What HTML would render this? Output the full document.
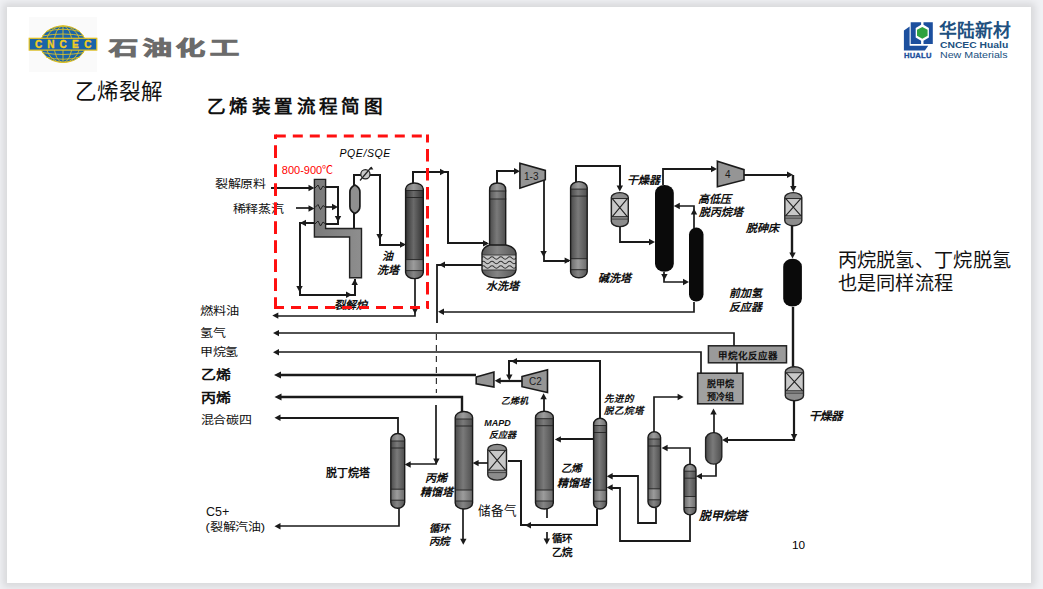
<!DOCTYPE html>
<html lang="zh-CN"><head><meta charset="utf-8"><title>乙烯裂解</title>
<style>
*{margin:0;padding:0;box-sizing:border-box}
html,body{width:1043px;height:589px;overflow:hidden;background:#f0f1f4;font-family:"Liberation Sans",sans-serif}
.slide{position:absolute;left:7px;top:7px;width:1024px;height:576px;background:#fff;box-shadow:0 0 7px 4px rgba(0,0,0,0.1)}
.abs{position:absolute;white-space:nowrap}
svg.d{position:absolute;left:0;top:0}
</style></head>
<body>
<div class="slide"></div>
<svg class="d" width="1043" height="589" viewBox="0 0 1043 589">
<defs>
<linearGradient id="gcol" x1="0" x2="1" y1="0" y2="0">
<stop offset="0" stop-color="#4a4a4a"/><stop offset="0.45" stop-color="#7a7a7a"/><stop offset="1" stop-color="#4e4e4e"/>
</linearGradient>
<linearGradient id="glight" x1="0" x2="1" y1="0" y2="0">
<stop offset="0" stop-color="#6a6a6a"/><stop offset="0.45" stop-color="#9c9c9c"/><stop offset="1" stop-color="#6a6a6a"/>
</linearGradient>
<linearGradient id="gmid" x1="0" x2="1" y1="0" y2="0">
<stop offset="0" stop-color="#555"/><stop offset="0.45" stop-color="#858585"/><stop offset="1" stop-color="#555"/>
</linearGradient>
<linearGradient id="gdark" x1="0" x2="1" y1="0" y2="0">
<stop offset="0" stop-color="#333"/><stop offset="0.45" stop-color="#6a6a6a"/><stop offset="1" stop-color="#333"/>
</linearGradient>
<linearGradient id="gfur" x1="0" x2="1" y1="0" y2="0">
<stop offset="0" stop-color="#7a7a7a"/><stop offset="1" stop-color="#8e8e8e"/>
</linearGradient>
</defs>
<!-- CNCEC logo -->
<rect x="29" y="17" width="68" height="55" fill="#fafafa"/>
<ellipse cx="63" cy="44.2" rx="22.7" ry="18.3" fill="#1a64a8" stroke="#e5c21f" stroke-width="1"/>
<g stroke="#d8bf2a" stroke-width="0.9" fill="none">
<ellipse cx="63" cy="44.2" rx="9" ry="18.3"/>
<ellipse cx="63" cy="44.2" rx="17" ry="18.3"/>
<line x1="63" y1="26" x2="63" y2="62.5"/>
<path d="M46,31.5 Q63,27 80,31.5 M42,36 Q63,32 84,36 M42,52.5 Q63,56.5 84,52.5 M46,57 Q63,61.5 80,57"/>
</g>
<rect x="29.2" y="38.3" width="67.6" height="11.8" fill="#1a64a8" stroke="#e5c21f" stroke-width="1.2"/>
<text x="35 47.3 59.6 72.1 84.2" y="48" font-size="10" font-weight="bold" fill="#f2cc22" stroke="#f2cc22" stroke-width="0.35" font-family="Liberation Sans, sans-serif">CNCEC</text>
<!-- Hualu logo icon -->
<g fill="#1c4f9e">
<path d="M903.9,30.5 L909.6,26.6 L909.6,45.8 L928.2,45.8 L924.9,50.4 L903.9,50.4 Z"/>
<path d="M910.7,22.3 L921.1,22.3 L921.1,24.8 L915.7,28 L915.7,37.5 L921.1,40.7 L921.1,44 L910.7,44 Z"/>
<path d="M923.5,22.3 L932.8,22.3 L932.8,44 L923.5,44 L923.5,40.7 L928.9,37.5 L928.9,28 L923.5,24.8 Z"/>
</g>
<polygon points="922.3,26.9 927.6,29.8 927.6,35.7 922.3,38.7 917,35.7 917,29.8" fill="#2ea23f"/>
<path d="M271,188 L312,188" fill="none" stroke="#1a1a1a" stroke-width="2.0" stroke-linejoin="miter"/>
<path d="M314.5,188.0 L308.5,184.8 L308.5,191.2 Z" fill="#1a1a1a"/>
<path d="M296,208 L312,208" fill="none" stroke="#1a1a1a" stroke-width="1.7" stroke-linejoin="miter"/>
<path d="M314.5,208.5 L308.5,205.3 L308.5,211.7 Z" fill="#1a1a1a"/>
<path d="M314.4,179.4 L325.6,179.4 L325.6,228.5 L361.5,228.5 L361.5,277.7 L349.6,277.7 L349.6,237 L314.4,237 Z" fill="url(#gfur)" stroke="#222" stroke-width="1.4"/>
<path d="M315,188 L318,185 L320.5,190 L323,186 L325.6,188" fill="none" stroke="#222" stroke-width="1"/>
<path d="M315,207.5 L318,204.5 L320.5,209.5 L323,205.5 L325.6,207.5" fill="none" stroke="#222" stroke-width="1"/>
<path d="M315,224 L318,221 L320.5,226 L323,222 L325.6,224" fill="none" stroke="#222" stroke-width="1"/>
<path d="M326,187 L338,187 L338,224 L326,224" fill="none" stroke="#1a1a1a" stroke-width="2.0" stroke-linejoin="miter"/>
<path d="M338.0,222.0 L334.8,216.0 L341.2,216.0 Z" fill="#1a1a1a"/>
<path d="M326,207 L335,207" fill="none" stroke="#1a1a1a" stroke-width="1.7" stroke-linejoin="miter"/>
<path d="M338.0,207.0 L332.0,203.8 L332.0,210.2 Z" fill="#1a1a1a"/>
<path d="M314,223 L300,223 L300,295 L355,295 L355,279" fill="none" stroke="#1a1a1a" stroke-width="2.0" stroke-linejoin="miter"/>
<path d="M300.0,223.0 L306.0,219.8 L306.0,226.2 Z" fill="#1a1a1a"/>
<path d="M299.5,292.0 L296.3,286.0 L302.7,286.0 Z" fill="#1a1a1a"/>
<path d="M352.0,294.7 L346.0,291.5 L346.0,297.9 Z" fill="#1a1a1a"/>
<path d="M354.7,279.0 L351.5,285.0 L357.9,285.0 Z" fill="#1a1a1a"/>
<path d="M354,212 L354,228" fill="none" stroke="#1a1a1a" stroke-width="2.0" stroke-linejoin="miter"/>
<path d="M354.9,185 Q359.9,187.5 359.9,192 L359.9,206.5 Q359.9,211 354.9,213.5 Q349.9,211 349.9,206.5 L349.9,192 Q349.9,187.5 354.9,185 Z" fill="#8f8f8f" stroke="#1a1a1a" stroke-width="1.7"/>
<path d="M354,186 L354,175 L380,175 L380,245 L404,245" fill="none" stroke="#1a1a1a" stroke-width="2.0" stroke-linejoin="miter"/>
<path d="M379.6,240.0 L376.4,234.0 L382.8,234.0 Z" fill="#1a1a1a"/>
<path d="M406.0,244.6 L400.0,241.4 L400.0,247.8 Z" fill="#1a1a1a"/>
<circle cx="365.4" cy="174.3" r="4.6" fill="#c9c9c9" stroke="#222" stroke-width="1.2"/>
<line x1="360" y1="180.5" x2="371" y2="167.5" stroke="#222" stroke-width="1.2"/>
<path d="M371.5,166.5 L369.7,169.5 L373.3,169.5 Z" fill="#1a1a1a"/>
<clipPath id="cc1"><rect x="405.6" y="183.0" width="17.7" height="95.6" rx="8.8" ry="6.0"/></clipPath>
<rect x="405.6" y="183.0" width="17.7" height="95.6" rx="8.8" ry="6.0" fill="url(#gdark)"/>
<g clip-path="url(#cc1)"><rect x="405.6" y="183" width="17.69999999999999" height="7.5" fill="url(#glight)"/><rect x="405.6" y="259.6" width="17.69999999999999" height="11" fill="url(#glight)"/><rect x="405.6" y="270.6" width="17.69999999999999" height="8" fill="url(#gmid)"/><line x1="405.6" y1="190.5" x2="423.3" y2="190.5" stroke="#222" stroke-width="0.9"/><line x1="405.6" y1="197.5" x2="423.3" y2="197.5" stroke="#222" stroke-width="0.9"/><line x1="405.6" y1="259.6" x2="423.3" y2="259.6" stroke="#222" stroke-width="0.9"/><line x1="405.6" y1="270.6" x2="423.3" y2="270.6" stroke="#222" stroke-width="0.9"/></g>
<rect x="405.6" y="183.0" width="17.7" height="95.6" rx="8.8" ry="6.0" fill="none" stroke="#1a1a1a" stroke-width="1.4"/>
<path d="M413,183 L413,172 L448,172 L448,243 L487,243" fill="none" stroke="#1a1a1a" stroke-width="2.0" stroke-linejoin="miter"/>
<path d="M446.0,172.0 L440.0,168.8 L440.0,175.2 Z" fill="#1a1a1a"/>
<path d="M489.0,243.4 L483.0,240.2 L483.0,246.6 Z" fill="#1a1a1a"/>
<path d="M415,279 L415,316 L276,316" fill="none" stroke="#1a1a1a" stroke-width="1.7" stroke-linejoin="miter"/>
<path d="M415.0,314.0 L411.8,308.0 L418.2,308.0 Z" fill="#1a1a1a"/>
<path d="M272.3,315.6 L278.3,312.4 L278.3,318.8 Z" fill="#1a1a1a"/>
<path d="M489.6,250 L489.6,190 Q489.6,183 497.6,183 Q505.7,183 505.7,190 L505.7,250 Z" fill="url(#gcol)"/>
<path d="M489.6,191 L489.6,190 Q489.6,183 497.6,183 Q505.7,183 505.7,190 L505.7,191 Z" fill="url(#glight)"/>
<rect x="489.6" y="191" width="16.1" height="8" fill="url(#gmid)"/>
<line x1="489" y1="191" x2="506.3" y2="191" stroke="#222" stroke-width="0.9"/>
<line x1="489" y1="199" x2="506.3" y2="199" stroke="#222" stroke-width="0.9"/>
<path d="M489.6,250 L489.6,190 Q489.6,183 497.6,183 Q505.7,183 505.7,190 L505.7,250" fill="none" stroke="#1a1a1a" stroke-width="1.4"/>
<clipPath id="bowl"><path d="M489.6,245 Q483,247 482,253 L482,270 Q483,278 499,278 Q515,278 516,270 L516,253 Q515,247 505.7,245 Z"/></clipPath>
<g clip-path="url(#bowl)"><rect x="481" y="244" width="36" height="35" fill="url(#gmid)"/><rect x="481" y="255" width="36" height="15" fill="#c4c4c4"/>
<path d="M481,258 q2.2,-2.4 4.4,0 t4.4,0 t4.4,0 t4.4,0 t4.4,0 t4.4,0 t4.4,0 t4.4,0" fill="none" stroke="#333" stroke-width="1.1"/>
<path d="M481,262.5 q2.2,-2.4 4.4,0 t4.4,0 t4.4,0 t4.4,0 t4.4,0 t4.4,0 t4.4,0 t4.4,0" fill="none" stroke="#333" stroke-width="1.1"/>
<path d="M481,267 q2.2,-2.4 4.4,0 t4.4,0 t4.4,0 t4.4,0 t4.4,0 t4.4,0 t4.4,0 t4.4,0" fill="none" stroke="#333" stroke-width="1.1"/>
<line x1="481" y1="255" x2="517" y2="255" stroke="#333" stroke-width="0.9"/><line x1="481" y1="270" x2="517" y2="270" stroke="#333" stroke-width="0.9"/></g>
<path d="M489.6,245 Q483,247 482,253 L482,270 Q483,278 499,278 Q515,278 516,270 L516,253 Q515,247 505.7,245 Z" fill="none" stroke="#1a1a1a" stroke-width="1.4"/>
<path d="M497,183 L497,171 L518,171" fill="none" stroke="#1a1a1a" stroke-width="2.0" stroke-linejoin="miter"/>
<path d="M520.0,171.2 L514.0,168.0 L514.0,174.4 Z" fill="#1a1a1a"/>
<path d="M482,265 L437,265 L437,323" fill="none" stroke="#1a1a1a" stroke-width="1.8" stroke-linejoin="miter"/>
<path d="M439.0,264.8 L445.0,261.6 L445.0,268.0 Z" fill="#1a1a1a"/>
<path d="M519.9,163.2 L545.3,170.4 L545.3,179.7 L519.9,188.2 Z" fill="#959595" stroke="#1a1a1a" stroke-width="1.6"/>
<text x="524" y="179.5" font-size="10" fill="#1a1a1a" font-family="Liberation Sans, sans-serif">1-3</text>
<path d="M544,180 L544,261 L569,261" fill="none" stroke="#1a1a1a" stroke-width="1.8" stroke-linejoin="miter"/>
<path d="M543.6,257.0 L540.4,251.0 L546.8,251.0 Z" fill="#1a1a1a"/>
<path d="M570.6,260.6 L564.6,257.4 L564.6,263.8 Z" fill="#1a1a1a"/>
<clipPath id="cc2"><rect x="570.6" y="181.6" width="16.6" height="96.1" rx="8.3" ry="6.0"/></clipPath>
<rect x="570.6" y="181.6" width="16.6" height="96.1" rx="8.3" ry="6.0" fill="url(#gcol)"/>
<g clip-path="url(#cc2)"><rect x="570.6" y="181.6" width="16.600000000000023" height="7.5" fill="url(#glight)"/><rect x="570.6" y="258.7" width="16.600000000000023" height="11" fill="url(#glight)"/><rect x="570.6" y="269.7" width="16.600000000000023" height="8" fill="url(#gmid)"/><line x1="570.6" y1="189.1" x2="587.2" y2="189.1" stroke="#222" stroke-width="0.9"/><line x1="570.6" y1="196.1" x2="587.2" y2="196.1" stroke="#222" stroke-width="0.9"/><line x1="570.6" y1="258.7" x2="587.2" y2="258.7" stroke="#222" stroke-width="0.9"/><line x1="570.6" y1="269.7" x2="587.2" y2="269.7" stroke="#222" stroke-width="0.9"/></g>
<rect x="570.6" y="181.6" width="16.6" height="96.1" rx="8.3" ry="6.0" fill="none" stroke="#1a1a1a" stroke-width="1.4"/>
<path d="M576,182 L576,166 L620,166 L620,188" fill="none" stroke="#1a1a1a" stroke-width="2.0" stroke-linejoin="miter"/>
<path d="M619.8,191.5 L616.6,185.5 L623.0,185.5 Z" fill="#1a1a1a"/>
<rect x="611.3" y="192.6" width="17.0" height="34.0" rx="8.5" ry="5" fill="#8c8c8c" stroke="#222" stroke-width="1.4"/>
<line x1="611.3" y1="198.6" x2="628.3" y2="198.6" stroke="#222" stroke-width="1"/>
<line x1="611.3" y1="216.6" x2="628.3" y2="216.6" stroke="#222" stroke-width="1"/>
<rect x="612.3" y="199.1" width="15.0" height="17.0" fill="#c8c8c8"/>
<path d="M612.3,198.6 L627.3,216.6 M627.3,198.6 L612.3,216.6" stroke="#222" stroke-width="1.1"/>
<line x1="611.3" y1="219.1" x2="628.3" y2="219.1" stroke="#333" stroke-width="0.8"/>
<path d="M620,227 L620,242 L652,242" fill="none" stroke="#1a1a1a" stroke-width="1.8" stroke-linejoin="miter"/>
<path d="M655.0,242.0 L649.0,238.8 L649.0,245.2 Z" fill="#1a1a1a"/>
<rect x="655" y="185" width="18.8" height="86.8" rx="9.4" ry="8" fill="#0a0a0a"/>
<path d="M663,185 L663,169 L714,169" fill="none" stroke="#1a1a1a" stroke-width="1.8" stroke-linejoin="miter"/>
<path d="M717.0,169.0 L711.0,165.8 L711.0,172.2 Z" fill="#1a1a1a"/>
<path d="M664,272 L664,282 L686,282" fill="none" stroke="#1a1a1a" stroke-width="1.7" stroke-linejoin="miter"/>
<path d="M664.4,280.0 L661.2,274.0 L667.6,274.0 Z" fill="#1a1a1a"/>
<path d="M689.0,282.0 L683.0,278.8 L683.0,285.2 Z" fill="#1a1a1a"/>
<rect x="689" y="227.6" width="14.5" height="73.9" rx="7.2" ry="7" fill="#0a0a0a"/>
<path d="M694,228 L694,206 L676,206" fill="none" stroke="#1a1a1a" stroke-width="1.7" stroke-linejoin="miter"/>
<path d="M694.0,208.5 L690.8,214.5 L697.2,214.5 Z" fill="#1a1a1a"/>
<path d="M673.8,206.0 L679.8,202.8 L679.8,209.2 Z" fill="#1a1a1a"/>
<path d="M694,302 L694,312 L440,312" fill="none" stroke="#1a1a1a" stroke-width="1.7" stroke-linejoin="miter"/>
<path d="M438.0,311.7 L444.0,308.5 L444.0,314.9 Z" fill="#1a1a1a"/>
<path d="M717.4,161.2 L744.0,169.7 L744.0,180.0 L717.4,186.7 Z" fill="#959595" stroke="#1a1a1a" stroke-width="1.6"/>
<text x="725" y="178" font-size="10" fill="#1a1a1a" font-family="Liberation Sans, sans-serif">4</text>
<path d="M744,175 L790,175" fill="none" stroke="#1a1a1a" stroke-width="2.0" stroke-linejoin="miter"/>
<path d="M793.0,174.8 L787.0,171.6 L787.0,178.0 Z" fill="#1a1a1a"/>
<path d="M793,175 L793,189" fill="none" stroke="#1a1a1a" stroke-width="2.4000000000000004" stroke-linejoin="miter"/>
<path d="M793.3,192.0 L790.1,186.0 L796.5,186.0 Z" fill="#1a1a1a"/>
<rect x="784.8" y="192.6" width="17.0" height="33.1" rx="8.5" ry="5" fill="#8c8c8c" stroke="#222" stroke-width="1.4"/>
<line x1="784.8" y1="198.6" x2="801.8" y2="198.6" stroke="#222" stroke-width="1"/>
<line x1="784.8" y1="215.7" x2="801.8" y2="215.7" stroke="#222" stroke-width="1"/>
<rect x="785.8" y="199.1" width="15.0" height="16.099999999999994" fill="#c8c8c8"/>
<path d="M785.8,198.6 L800.8,215.7 M800.8,198.6 L785.8,215.7" stroke="#222" stroke-width="1.1"/>
<line x1="784.8" y1="218.2" x2="801.8" y2="218.2" stroke="#333" stroke-width="0.8"/>
<path d="M792,226 L792,255" fill="none" stroke="#1a1a1a" stroke-width="2.4000000000000004" stroke-linejoin="miter"/>
<path d="M792.5,258.5 L789.3,252.5 L795.7,252.5 Z" fill="#1a1a1a"/>
<rect x="783.2" y="258.7" width="18.7" height="47.9" rx="9.3" ry="8" fill="#0a0a0a"/>
<path d="M793,307 L793,367" fill="none" stroke="#1a1a1a" stroke-width="2.4000000000000004" stroke-linejoin="miter"/>
<rect x="785.3" y="366.8" width="18.2" height="33.9" rx="9.1" ry="5" fill="#8c8c8c" stroke="#222" stroke-width="1.4"/>
<line x1="785.3" y1="372.8" x2="803.5" y2="372.8" stroke="#222" stroke-width="1"/>
<line x1="785.3" y1="390.7" x2="803.5" y2="390.7" stroke="#222" stroke-width="1"/>
<rect x="786.3" y="373.3" width="16.200000000000045" height="16.899999999999977" fill="#c8c8c8"/>
<path d="M786.3,372.8 L802.5,390.7 M802.5,372.8 L786.3,390.7" stroke="#222" stroke-width="1.1"/>
<line x1="785.3" y1="393.2" x2="803.5" y2="393.2" stroke="#333" stroke-width="0.8"/>
<path d="M794,401 L794,440 L724,440" fill="none" stroke="#1a1a1a" stroke-width="2.2" stroke-linejoin="miter"/>
<path d="M794.1,440.0 L790.9,434.0 L797.3,434.0 Z" fill="#1a1a1a"/>
<path d="M722.0,440.0 L728.0,436.8 L728.0,443.2 Z" fill="#1a1a1a"/>
<rect x="708.4" y="345.8" width="78.1" height="17" fill="#9a9a9a" stroke="#222" stroke-width="1.5"/>
<text x="718" y="358.5" font-size="9.5" fill="#111" font-weight="bold" text-anchor="start" font-family='"Liberation Sans", sans-serif' >甲烷化反应器</text>
<path d="M734,346 L734,333 L276,333" fill="none" stroke="#1a1a1a" stroke-width="1.7" stroke-linejoin="miter"/>
<path d="M273.0,333.1 L279.0,329.9 L279.0,336.3 Z" fill="#1a1a1a"/>
<path d="M737,363 L737,373" fill="none" stroke="#1a1a1a" stroke-width="1.7" stroke-linejoin="miter"/>
<rect x="697.7" y="373.2" width="45.2" height="30.6" fill="#a0a0a0" stroke="#222" stroke-width="1.6"/>
<text x="720.3" y="387" font-size="9" fill="#111" font-weight="bold" text-anchor="middle" font-family='"Liberation Sans", sans-serif' >脱甲烷</text>
<text x="720.3" y="399.5" font-size="9" fill="#111" font-weight="bold" text-anchor="middle" font-family='"Liberation Sans", sans-serif' >预冷组</text>
<path d="M701,373 L701,352 L276,352" fill="none" stroke="#1a1a1a" stroke-width="1.7" stroke-linejoin="miter"/>
<path d="M273.0,352.3 L279.0,349.1 L279.0,355.5 Z" fill="#1a1a1a"/>
<rect x="705.6" y="432.6" width="16.2" height="31.5" rx="8.1" ry="7" fill="url(#gcol)" stroke="#222" stroke-width="1.4"/>
<path d="M714,433 L714,411" fill="none" stroke="#1a1a1a" stroke-width="1.7" stroke-linejoin="miter"/>
<path d="M713.5,408.5 L710.3,414.5 L716.7,414.5 Z" fill="#1a1a1a"/>
<path d="M716,464 L716,476 L698,476" fill="none" stroke="#1a1a1a" stroke-width="1.7" stroke-linejoin="miter"/>
<path d="M696.0,476.3 L702.0,473.1 L702.0,479.5 Z" fill="#1a1a1a"/>
<clipPath id="cc3"><rect x="684.0" y="464.3" width="12.0" height="50.6" rx="6.0" ry="5.4"/></clipPath>
<rect x="684.0" y="464.3" width="12.0" height="50.6" rx="6.0" ry="5.4" fill="url(#gcol)"/>
<g clip-path="url(#cc3)"><rect x="684" y="464.3" width="12" height="6.9" fill="url(#glight)"/><rect x="684" y="496.5" width="12" height="11" fill="url(#glight)"/><rect x="684" y="507.5" width="12" height="7.4" fill="url(#gmid)"/><line x1="684.0" y1="471.2" x2="696.0" y2="471.2" stroke="#222" stroke-width="0.9"/><line x1="684.0" y1="478.2" x2="696.0" y2="478.2" stroke="#222" stroke-width="0.9"/><line x1="684.0" y1="496.5" x2="696.0" y2="496.5" stroke="#222" stroke-width="0.9"/><line x1="684.0" y1="507.5" x2="696.0" y2="507.5" stroke="#222" stroke-width="0.9"/></g>
<rect x="684.0" y="464.3" width="12.0" height="50.6" rx="6.0" ry="5.4" fill="none" stroke="#1a1a1a" stroke-width="1.4"/>
<path d="M690,464 L690,448 L664,448" fill="none" stroke="#1a1a1a" stroke-width="1.7" stroke-linejoin="miter"/>
<path d="M661.6,448.0 L667.6,444.8 L667.6,451.2 Z" fill="#1a1a1a"/>
<path d="M690,515 L690,541 L620,541 L620,488 L609,488" fill="none" stroke="#1a1a1a" stroke-width="1.8" stroke-linejoin="miter"/>
<path d="M606.7,487.5 L612.7,484.3 L612.7,490.7 Z" fill="#1a1a1a"/>
<clipPath id="cc4"><rect x="648.0" y="431.8" width="12.6" height="75.7" rx="6.3" ry="5.7"/></clipPath>
<rect x="648.0" y="431.8" width="12.6" height="75.7" rx="6.3" ry="5.7" fill="url(#gcol)"/>
<g clip-path="url(#cc4)"><rect x="648" y="431.8" width="12.600000000000023" height="7.170000000000011" fill="url(#glight)"/><rect x="648" y="488.83" width="12.600000000000023" height="11" fill="url(#glight)"/><rect x="648" y="499.83" width="12.600000000000023" height="7.670000000000011" fill="url(#gmid)"/><line x1="648.0" y1="439.0" x2="660.6" y2="439.0" stroke="#222" stroke-width="0.9"/><line x1="648.0" y1="446.0" x2="660.6" y2="446.0" stroke="#222" stroke-width="0.9"/><line x1="648.0" y1="488.8" x2="660.6" y2="488.8" stroke="#222" stroke-width="0.9"/><line x1="648.0" y1="499.8" x2="660.6" y2="499.8" stroke="#222" stroke-width="0.9"/></g>
<rect x="648.0" y="431.8" width="12.6" height="75.7" rx="6.3" ry="5.7" fill="none" stroke="#1a1a1a" stroke-width="1.4"/>
<path d="M654,432 L654,397 L681,397" fill="none" stroke="#1a1a1a" stroke-width="1.7" stroke-linejoin="miter"/>
<path d="M683.6,397.0 L677.6,393.8 L677.6,400.2 Z" fill="#1a1a1a"/>
<path d="M656,508 L656,523 L638,523 L638,476 L609,476" fill="none" stroke="#1a1a1a" stroke-width="1.8" stroke-linejoin="miter"/>
<path d="M606.7,476.3 L612.7,473.1 L612.7,479.5 Z" fill="#1a1a1a"/>
<clipPath id="cc5"><rect x="593.6" y="418.2" width="12.9" height="90.8" rx="6.4" ry="5.8"/></clipPath>
<rect x="593.6" y="418.2" width="12.9" height="90.8" rx="6.4" ry="5.8" fill="url(#gcol)"/>
<g clip-path="url(#cc5)"><rect x="593.6" y="418.2" width="12.899999999999977" height="7.30499999999999" fill="url(#glight)"/><rect x="593.6" y="490.195" width="12.899999999999977" height="11" fill="url(#glight)"/><rect x="593.6" y="501.195" width="12.899999999999977" height="7.80499999999999" fill="url(#gmid)"/><line x1="593.6" y1="425.5" x2="606.5" y2="425.5" stroke="#222" stroke-width="0.9"/><line x1="593.6" y1="432.5" x2="606.5" y2="432.5" stroke="#222" stroke-width="0.9"/><line x1="593.6" y1="490.2" x2="606.5" y2="490.2" stroke="#222" stroke-width="0.9"/><line x1="593.6" y1="501.2" x2="606.5" y2="501.2" stroke="#222" stroke-width="0.9"/></g>
<rect x="593.6" y="418.2" width="12.9" height="90.8" rx="6.4" ry="5.8" fill="none" stroke="#1a1a1a" stroke-width="1.4"/>
<path d="M600,418 L600,361 L509,361 L509,378" fill="none" stroke="#1a1a1a" stroke-width="2.0" stroke-linejoin="miter"/>
<path d="M511.0,361.2 L517.0,358.0 L517.0,364.4 Z" fill="#1a1a1a"/>
<path d="M509.3,380.5 L506.1,374.5 L512.5,374.5 Z" fill="#1a1a1a"/>
<path d="M594,439 L557,439" fill="none" stroke="#1a1a1a" stroke-width="1.8" stroke-linejoin="miter"/>
<path d="M554.9,439.4 L560.9,436.2 L560.9,442.6 Z" fill="#1a1a1a"/>
<path d="M597,509 L597,525 L521,525 L521,461 L508,461" fill="none" stroke="#1a1a1a" stroke-width="2.0" stroke-linejoin="miter"/>
<path d="M525.0,525.3 L531.0,522.1 L531.0,528.5 Z" fill="#1a1a1a"/>
<path d="M522.0,376.5 L547.5,369.7 L547.5,392.6 L522.0,386.7 Z" fill="#959595" stroke="#1a1a1a" stroke-width="1.6"/>
<text x="529" y="385" font-size="10" fill="#1a1a1a" font-family="Liberation Sans, sans-serif">C2</text>
<path d="M522,381 L497,381" fill="none" stroke="#1a1a1a" stroke-width="2.2" stroke-linejoin="miter"/>
<path d="M494.7,380.7 L500.7,377.5 L500.7,383.9 Z" fill="#1a1a1a"/>
<path d="M544,411 L544,396" fill="none" stroke="#1a1a1a" stroke-width="1.8" stroke-linejoin="miter"/>
<path d="M543.6,393.2 L540.4,399.2 L546.8,399.2 Z" fill="#1a1a1a"/>
<path d="M476.2,377.0 L493.9,372.1 L493.9,387.1 L476.2,383.9 Z" fill="#959595" stroke="#1a1a1a" stroke-width="1.6"/>
<path d="M476,375 L278,375" fill="none" stroke="#1a1a1a" stroke-width="2.4000000000000004" stroke-linejoin="miter"/>
<path d="M274.0,375.0 L281.0,371.4 L281.0,378.6 Z" fill="#1a1a1a"/>
<clipPath id="cc6"><rect x="535.5" y="411.2" width="17.8" height="97.8" rx="8.9" ry="6.0"/></clipPath>
<rect x="535.5" y="411.2" width="17.8" height="97.8" rx="8.9" ry="6.0" fill="url(#gcol)"/>
<g clip-path="url(#cc6)"><rect x="535.5" y="411.2" width="17.799999999999955" height="7.5" fill="url(#glight)"/><rect x="535.5" y="490" width="17.799999999999955" height="11" fill="url(#glight)"/><rect x="535.5" y="501" width="17.799999999999955" height="8" fill="url(#gmid)"/><line x1="535.5" y1="418.7" x2="553.3" y2="418.7" stroke="#222" stroke-width="0.9"/><line x1="535.5" y1="425.7" x2="553.3" y2="425.7" stroke="#222" stroke-width="0.9"/><line x1="535.5" y1="490.0" x2="553.3" y2="490.0" stroke="#222" stroke-width="0.9"/><line x1="535.5" y1="501.0" x2="553.3" y2="501.0" stroke="#222" stroke-width="0.9"/></g>
<rect x="535.5" y="411.2" width="17.8" height="97.8" rx="8.9" ry="6.0" fill="none" stroke="#1a1a1a" stroke-width="1.4"/>
<path d="M547,509 L547,518" fill="none" stroke="#1a1a1a" stroke-width="1.7" stroke-linejoin="miter"/>
<path d="M547,532 L547,540" fill="none" stroke="#1a1a1a" stroke-width="1.7" stroke-linejoin="miter"/>
<path d="M546.8,544.5 L543.6,538.5 L550.0,538.5 Z" fill="#1a1a1a"/>
<rect x="487.8" y="444.4" width="18.7" height="35.7" rx="9.3" ry="5" fill="#8c8c8c" stroke="#222" stroke-width="1.4"/>
<line x1="487.8" y1="450.4" x2="506.5" y2="450.4" stroke="#222" stroke-width="1"/>
<line x1="487.8" y1="470.1" x2="506.5" y2="470.1" stroke="#222" stroke-width="1"/>
<rect x="488.8" y="450.9" width="16.69999999999999" height="18.700000000000045" fill="#c8c8c8"/>
<path d="M488.8,450.4 L505.5,470.1 M505.5,450.4 L488.8,470.1" stroke="#222" stroke-width="1.1"/>
<line x1="487.8" y1="472.6" x2="506.5" y2="472.6" stroke="#333" stroke-width="0.8"/>
<path d="M488,463 L475,463" fill="none" stroke="#1a1a1a" stroke-width="1.7" stroke-linejoin="miter"/>
<path d="M472.6,463.1 L478.6,459.9 L478.6,466.3 Z" fill="#1a1a1a"/>
<clipPath id="cc7"><rect x="455.2" y="411.5" width="17.4" height="97.5" rx="8.7" ry="6.0"/></clipPath>
<rect x="455.2" y="411.5" width="17.4" height="97.5" rx="8.7" ry="6.0" fill="url(#gcol)"/>
<g clip-path="url(#cc7)"><rect x="455.2" y="411.5" width="17.400000000000034" height="7.5" fill="url(#glight)"/><rect x="455.2" y="490" width="17.400000000000034" height="11" fill="url(#glight)"/><rect x="455.2" y="501" width="17.400000000000034" height="8" fill="url(#gmid)"/><line x1="455.2" y1="419.0" x2="472.6" y2="419.0" stroke="#222" stroke-width="0.9"/><line x1="455.2" y1="426.0" x2="472.6" y2="426.0" stroke="#222" stroke-width="0.9"/><line x1="455.2" y1="490.0" x2="472.6" y2="490.0" stroke="#222" stroke-width="0.9"/><line x1="455.2" y1="501.0" x2="472.6" y2="501.0" stroke="#222" stroke-width="0.9"/></g>
<rect x="455.2" y="411.5" width="17.4" height="97.5" rx="8.7" ry="6.0" fill="none" stroke="#1a1a1a" stroke-width="1.4"/>
<path d="M462,412 L462,397 L278,397" fill="none" stroke="#1a1a1a" stroke-width="2.4000000000000004" stroke-linejoin="miter"/>
<path d="M274.5,397.0 L281.5,393.4 L281.5,400.6 Z" fill="#1a1a1a"/>
<path d="M463,509 L463,541" fill="none" stroke="#1a1a1a" stroke-width="1.7" stroke-linejoin="miter"/>
<path d="M463.3,544.7 L460.1,538.7 L466.5,538.7 Z" fill="#1a1a1a"/>
<clipPath id="cc8"><rect x="390.8" y="433.5" width="13.9" height="74.7" rx="6.9" ry="6.0"/></clipPath>
<rect x="390.8" y="433.5" width="13.9" height="74.7" rx="6.9" ry="6.0" fill="url(#gcol)"/>
<g clip-path="url(#cc8)"><rect x="390.8" y="433.5" width="13.899999999999977" height="7.5" fill="url(#glight)"/><rect x="390.8" y="489.2" width="13.899999999999977" height="11" fill="url(#glight)"/><rect x="390.8" y="500.2" width="13.899999999999977" height="8" fill="url(#gmid)"/><line x1="390.8" y1="441.0" x2="404.7" y2="441.0" stroke="#222" stroke-width="0.9"/><line x1="390.8" y1="448.0" x2="404.7" y2="448.0" stroke="#222" stroke-width="0.9"/><line x1="390.8" y1="489.2" x2="404.7" y2="489.2" stroke="#222" stroke-width="0.9"/><line x1="390.8" y1="500.2" x2="404.7" y2="500.2" stroke="#222" stroke-width="0.9"/></g>
<rect x="390.8" y="433.5" width="13.9" height="74.7" rx="6.9" ry="6.0" fill="none" stroke="#1a1a1a" stroke-width="1.4"/>
<path d="M398,434 L398,418 L278,418" fill="none" stroke="#1a1a1a" stroke-width="1.8" stroke-linejoin="miter"/>
<path d="M274.5,417.8 L280.5,414.6 L280.5,421.0 Z" fill="#1a1a1a"/>
<path d="M399,508 L399,526 L278,526" fill="none" stroke="#1a1a1a" stroke-width="1.7" stroke-linejoin="miter"/>
<path d="M274.5,526.2 L280.5,523.0 L280.5,529.4 Z" fill="#1a1a1a"/>
<path d="M436,405 L436,464 L407,464" fill="none" stroke="#1a1a1a" stroke-width="1.7" stroke-linejoin="miter"/>
<path d="M436.4,464.5 L433.2,458.5 L439.6,458.5 Z" fill="#1a1a1a"/>
<path d="M404.7,464.5 L410.7,461.3 L410.7,467.7 Z" fill="#1a1a1a"/>
<line x1="436.4" y1="334" x2="436.4" y2="393" stroke="#333" stroke-width="1.2" stroke-dasharray="6,5"/>
<text x="339.5" y="157" font-size="10.5" fill="#000" font-style="italic" text-anchor="start" font-family='"Liberation Sans", sans-serif' letter-spacing="0.6">PQE/SQE</text>
<text x="334" y="309" font-size="11" fill="#111" font-style="italic" font-weight="bold" text-anchor="start" font-family='"Liberation Sans", sans-serif' >裂解炉</text>
<text x="382" y="260" font-size="11" fill="#111" font-style="italic" font-weight="bold" text-anchor="start" font-family='"Liberation Sans", sans-serif' >油</text>
<text x="376.5" y="274" font-size="11" fill="#111" font-style="italic" font-weight="bold" text-anchor="start" font-family='"Liberation Sans", sans-serif' >洗塔</text>
<text x="486" y="289.5" font-size="11" fill="#111" font-style="italic" font-weight="bold" text-anchor="start" font-family='"Liberation Sans", sans-serif' >水洗塔</text>
<text x="598" y="282" font-size="11" fill="#111" font-style="italic" font-weight="bold" text-anchor="start" font-family='"Liberation Sans", sans-serif' >碱洗塔</text>
<text x="627" y="184" font-size="11" fill="#111" font-style="italic" font-weight="bold" text-anchor="start" font-family='"Liberation Sans", sans-serif' >干燥器</text>
<text x="698" y="202.8" font-size="11" fill="#111" font-style="italic" font-weight="bold" text-anchor="start" font-family='"Liberation Sans", sans-serif' >高低压</text>
<text x="698.5" y="216.4" font-size="11" fill="#111" font-style="italic" font-weight="bold" text-anchor="start" font-family='"Liberation Sans", sans-serif' >脱丙烷塔</text>
<text x="745.5" y="231.5" font-size="11" fill="#111" font-style="italic" font-weight="bold" text-anchor="start" font-family='"Liberation Sans", sans-serif' >脱砷床</text>
<text x="729" y="297.2" font-size="11" fill="#111" font-style="italic" font-weight="bold" text-anchor="start" font-family='"Liberation Sans", sans-serif' >前加氢</text>
<text x="729" y="310.8" font-size="11" fill="#111" font-style="italic" font-weight="bold" text-anchor="start" font-family='"Liberation Sans", sans-serif' >反应器</text>
<text x="809" y="419.5" font-size="11.5" fill="#111" font-style="italic" font-weight="bold" text-anchor="start" font-family='"Liberation Sans", sans-serif' >干燥器</text>
<text x="603.5" y="402" font-size="9.5" fill="#111" font-style="italic" font-weight="bold" text-anchor="start" font-family='"Liberation Sans", sans-serif' >先进的</text>
<text x="603.5" y="414" font-size="9.5" fill="#111" font-style="italic" font-weight="bold" text-anchor="start" font-family='"Liberation Sans", sans-serif' >脱乙烷塔</text>
<text x="500.5" y="404.2" font-size="9" fill="#111" font-style="italic" font-weight="bold" text-anchor="start" font-family='"Liberation Sans", sans-serif' >乙烯机</text>
<text x="484.3" y="426.3" font-size="9" fill="#111" font-style="italic" font-weight="bold" text-anchor="start" font-family='"Liberation Sans", sans-serif' >MAPD</text>
<text x="488.5" y="438.2" font-size="9" fill="#111" font-style="italic" font-weight="bold" text-anchor="start" font-family='"Liberation Sans", sans-serif' >反应器</text>
<text x="560.5" y="472.4" font-size="10.5" fill="#111" font-style="italic" font-weight="bold" text-anchor="start" font-family='"Liberation Sans", sans-serif' >乙烯</text>
<text x="556.5" y="486.9" font-size="11" fill="#111" font-style="italic" font-weight="bold" text-anchor="start" font-family='"Liberation Sans", sans-serif' >精馏塔</text>
<text x="425" y="481.5" font-size="11" fill="#111" font-style="italic" font-weight="bold" text-anchor="start" font-family='"Liberation Sans", sans-serif' >丙烯</text>
<text x="420" y="496" font-size="11" fill="#111" font-style="italic" font-weight="bold" text-anchor="start" font-family='"Liberation Sans", sans-serif' >精馏塔</text>
<text x="429" y="532" font-size="10.5" fill="#111" font-style="italic" font-weight="bold" text-anchor="start" font-family='"Liberation Sans", sans-serif' >循环</text>
<text x="428.5" y="544.7" font-size="10.5" fill="#111" font-style="italic" font-weight="bold" text-anchor="start" font-family='"Liberation Sans", sans-serif' >丙烷</text>
<text x="552" y="542.2" font-size="10.5" fill="#111" font-weight="bold" text-anchor="start" font-family='"Liberation Sans", sans-serif' >循环</text>
<text x="552" y="556" font-size="10.5" fill="#111" font-weight="bold" text-anchor="start" font-family='"Liberation Sans", sans-serif' >乙烷</text>
<text x="699" y="520.2" font-size="12" fill="#111" font-style="italic" font-weight="bold" text-anchor="start" font-family='"Liberation Sans", sans-serif' >脱甲烷塔</text>
<text x="325.5" y="477" font-size="11" fill="#111" font-weight="bold" text-anchor="start" font-family='"Liberation Sans", sans-serif' >脱丁烷塔</text>
<text transform="translate(199.8,315.3) scale(1,0.86)" x="0" y="0" font-size="13.3" fill="#111" text-anchor="start" font-family='"Liberation Sans", sans-serif' >燃料油</text>
<text transform="translate(200,336.5) scale(1,0.88)" x="0" y="0" font-size="13" fill="#111" text-anchor="start" font-family='"Liberation Sans", sans-serif' >氢气</text>
<text transform="translate(200,356) scale(1,0.88)" x="0" y="0" font-size="13" fill="#111" text-anchor="start" font-family='"Liberation Sans", sans-serif' >甲烷氢</text>
<text transform="translate(200.5,378.5) scale(1,0.86)" x="0" y="0" font-size="15" fill="#111" font-weight="bold" text-anchor="start" font-family='"Liberation Sans", sans-serif' >乙烯</text>
<text transform="translate(200.5,401.5) scale(1,0.86)" x="0" y="0" font-size="15" fill="#111" font-weight="bold" text-anchor="start" font-family='"Liberation Sans", sans-serif' >丙烯</text>
<text transform="translate(200.5,424) scale(1,0.88)" x="0" y="0" font-size="13" fill="#111" text-anchor="start" font-family='"Liberation Sans", sans-serif' >混合碳四</text>
<text x="206" y="515.7" font-size="12.5" fill="#111" text-anchor="start" font-family='"Liberation Sans", sans-serif' >C5+</text>
<text transform="translate(205.5,531.2) scale(1,0.88)" x="0" y="0" font-size="13" fill="#111" text-anchor="start" font-family='"Liberation Sans", sans-serif' >(裂解汽油)</text>
<text transform="translate(215,187.6) scale(1,0.88)" x="0" y="0" font-size="13" fill="#111" text-anchor="start" font-family='"Liberation Sans", sans-serif' >裂解原料</text>
<text transform="translate(232.5,213) scale(1,0.88)" x="0" y="0" font-size="13" fill="#111" text-anchor="start" font-family='"Liberation Sans", sans-serif' >稀释蒸汽</text>
<text x="792" y="548.6" font-size="11.8" fill="#000" text-anchor="start" font-family='"Liberation Sans", sans-serif' >10</text>
<text x="281.8" y="174.3" font-size="11" fill="#ff0000" text-anchor="start" font-family='"Liberation Sans", sans-serif' >800-900℃</text>
<path d="M274,136 L429,136" stroke="#ff1010" stroke-width="3" fill="none" stroke-dasharray="10,7" stroke-dashoffset="-1.8"/>
<path d="M275.5,134.5 L275.5,308.5" stroke="#ff1010" stroke-width="3" fill="none" stroke-dasharray="12.6,6.4" stroke-dashoffset="8.2"/>
<path d="M427.5,134.5 L427.5,308.5" stroke="#ff1010" stroke-width="3" fill="none" stroke-dasharray="8,6.4,12.6,6.4,12.6,6.4,12.6,6.4,12.6,6.4,12.6,6.4,12.6,6.4,12.6,6.4,12.6,6.4,12.6,6.4" />
<path d="M274,307.4 L429,307.4" stroke="#ff1010" stroke-width="3" fill="none" stroke-dasharray="10,7"/>
<text x="478.3" y="515" font-size="12.6" fill="#111" text-anchor="start" font-family='"Liberation Sans", sans-serif' >储备气</text>
</svg>
<div class="abs" style="left:109px;top:30px;font-size:29px;font-weight:900;color:#6b6b6b;letter-spacing:4.5px;-webkit-text-stroke:1.6px #6b6b6b;transform:scaleY(0.66);transform-origin:0 50%;line-height:36px;font-family:'Liberation Serif',serif">石油化工</div>
<div class="abs" style="left:75px;top:78px;font-size:21.5px;color:#111;line-height:28px">乙烯裂解</div>
<div class="abs" style="left:207px;top:94.8px;font-size:18.6px;font-weight:bold;color:#111;letter-spacing:3.4px;line-height:24px;font-family:'Liberation Serif',serif">乙烯装置流程简图</div>
<div class="abs" style="left:939px;top:19.5px;font-size:17.8px;font-weight:bold;color:#20507f;line-height:22px;letter-spacing:0px">华陆新材</div>
<div class="abs" style="left:939.5px;top:40.3px;font-size:8.6px;font-weight:bold;color:#20507f;line-height:10px;transform:scaleX(1.2);transform-origin:0 0">CNCEC Hualu</div>
<div class="abs" style="left:939.5px;top:49.7px;font-size:8.6px;color:#20507f;line-height:10px;transform:scaleX(1.24);transform-origin:0 0">New Materials</div>
<div class="abs" style="left:904px;top:51px;font-size:7.6px;font-weight:bold;color:#1c4f9c;line-height:9px;letter-spacing:0.2px;-webkit-text-stroke:0.35px #1c4f9c">HUALU</div>
<div class="abs" style="left:837.5px;top:248.5px;font-size:19.2px;letter-spacing:0.3px;color:#111;line-height:23px">丙烷脱氢、丁烷脱氢<br>也是同样流程</div>
</body></html>
